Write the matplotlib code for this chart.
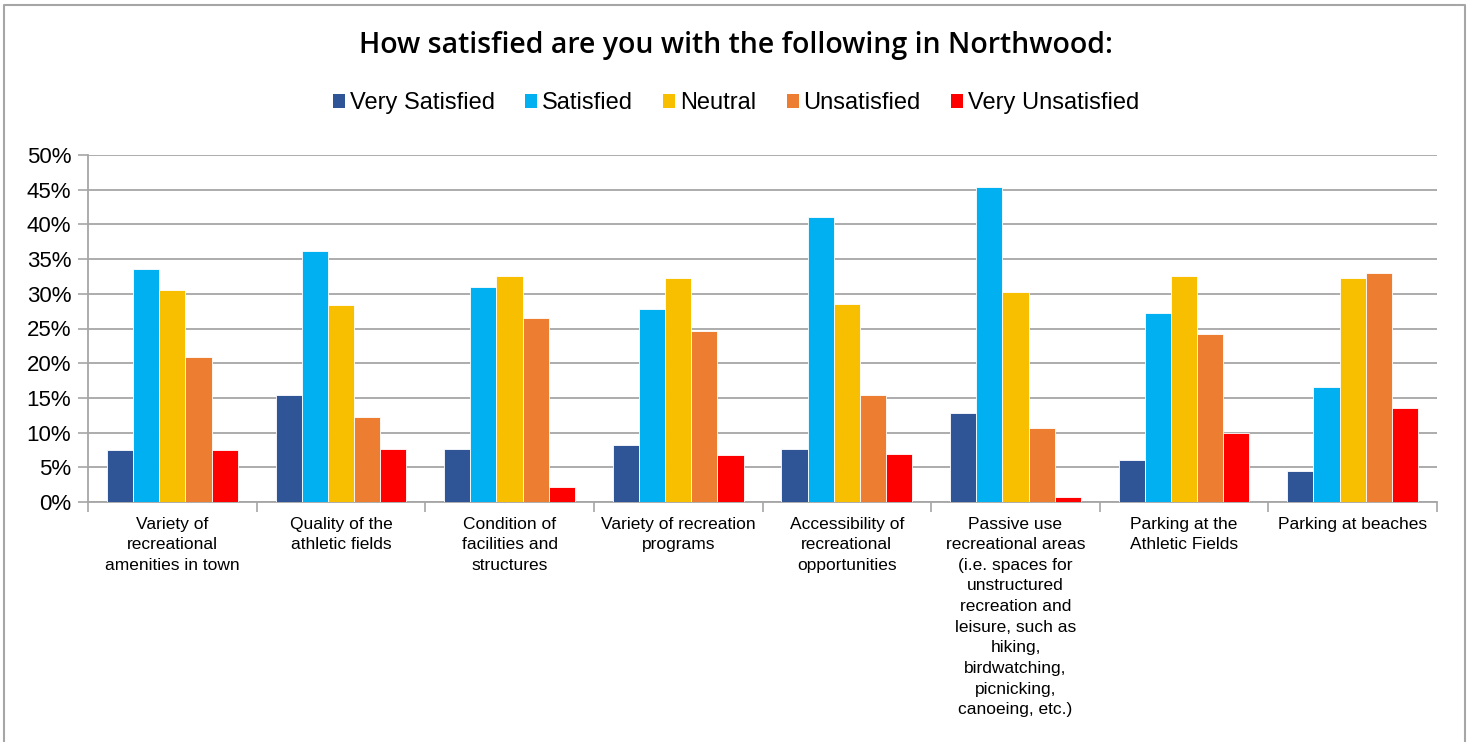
import numpy as np
import matplotlib.pyplot as plt
from matplotlib.patches import Patch
from matplotlib.lines import Line2D

plt.rcParams['font.family'] = ['Liberation Sans', 'DejaVu Sans']

# ── data ───────────────────────────────────────────────
categories = [
    "Variety of\nrecreational\namenities in town",
    "Quality of the\nathletic fields",
    "Condition of\nfacilities and\nstructures",
    "Variety of recreation\nprograms",
    "Accessibility of\nrecreational\nopportunities",
    "Passive use\nrecreational areas\n(i.e. spaces for\nunstructured\nrecreation and\nleisure, such as\nhiking,\nbirdwatching,\npicnicking,\ncanoeing, etc.)",
    "Parking at the\nAthletic Fields",
    "Parking at beaches",
]
series = ["Very Satisfied", "Satisfied", "Neutral", "Unsatisfied", "Very Unsatisfied"]
very_satisfied   = [7.5, 15.4, 7.6, 8.2, 7.7, 12.8, 6.0, 4.5]
satisfied        = [33.6, 36.2, 31.0, 27.8, 41.0, 45.4, 27.2, 16.5]
neutral          = [30.6, 28.4, 32.6, 32.3, 28.6, 30.2, 32.5, 32.3]
unsatisfied      = [20.9, 12.3, 26.5, 24.7, 15.4, 10.6, 24.2, 33.0]
very_unsatisfied = [7.5, 7.7, 2.2, 6.8, 6.9, 0.7, 9.9, 13.5]
colors = ["#2F5597", "#00B0F0", "#F8BF00", "#ED7D31", "#FF0000"]

values = [very_satisfied, satisfied, neutral, unsatisfied, very_unsatisfied]

# ── plot ───────────────────────────────────────────────
fig = plt.figure(figsize=(14.72, 7.42), dpi=100)
ax = fig.add_axes([88 / 1472, 1 - 502 / 742, (1437 - 88) / 1472, (502 - 155) / 742])

x = np.arange(len(categories))
w = 0.155
for i, (vals, col, name) in enumerate(zip(values, colors, series)):
    ax.bar(x + (i - 2) * w, vals, width=w, color=col, edgecolor="white",
           linewidth=0.6, label=name, zorder=3)

ax.set_xlim(-0.5, len(categories) - 0.5)
ax.set_ylim(0, 50)
ax.set_yticks(range(0, 51, 5))
ax.set_yticklabels([f"{v}%" for v in range(0, 51, 5)], fontsize=16)
ax.yaxis.grid(True, color="#A6A6A6", linewidth=1.3, zorder=0)
ax.set_axisbelow(True)

# group boundary ticks on the x axis
ax.set_xticks(np.arange(-0.5, len(categories), 1.0))
ax.set_xticklabels([])
ax.tick_params(axis="x", length=7, width=1.2, color="#A6A6A6")
ax.tick_params(axis="y", length=7, width=1.2, color="#A6A6A6", pad=5)
for i, lab in enumerate(categories):
    ax.text(i, -2.1, lab, ha="center", va="top", fontsize=12.5,
            linespacing=1.47)

for s in ["top", "right"]:
    ax.spines[s].set_visible(False)
for s in ["left", "bottom"]:
    ax.spines[s].set_color("#A6A6A6")
    ax.spines[s].set_linewidth(1.3)

# title + legend
fig.text(0.5, 1 - 46 / 742, "How satisfied are you with the following in Northwood:",
         ha="center", va="center", fontsize=20.5, family=["Open Sans", "DejaVu Sans"],
         fontweight="semibold")
handles = [Patch(facecolor=c, label=s) for c, s in zip(colors, series)]
fig.legend(handles=handles, loc="center", ncol=5, frameon=False, fontsize=17,
           bbox_to_anchor=(0.5, 1 - 103 / 742), handlelength=0.5, handleheight=0.55,
           handletextpad=0.2, columnspacing=1.3)

# outer border (bottom edge is cut off in the original)
bx0, bx1, by1 = 4 / 1472, 1465 / 1472, 1 - 5 / 742
fig.add_artist(Line2D([bx0, bx0, bx1, bx1], [0, by1, by1, 0],
                      transform=fig.transFigure, color="#A6A6A6", linewidth=1.5))

plt.savefig("out.png", dpi=100)
